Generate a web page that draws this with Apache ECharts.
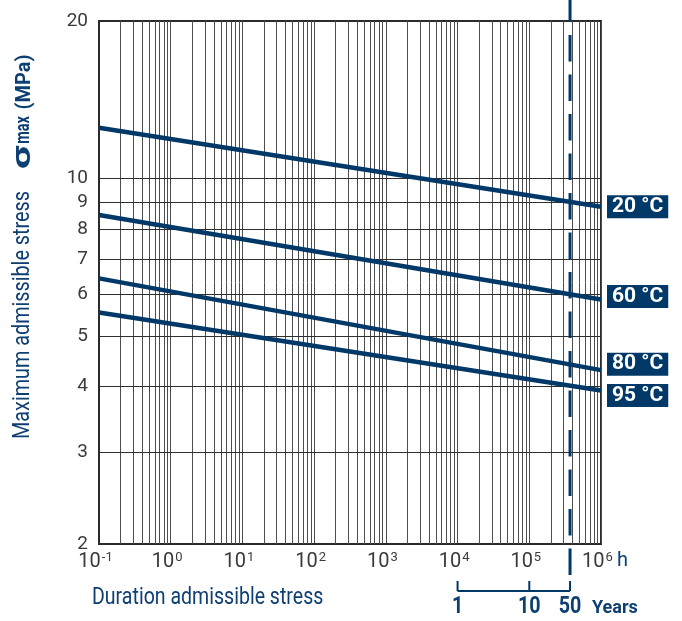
<!DOCTYPE html>
<html>
<head>
<meta charset="utf-8">
<script src="https://cdn.jsdelivr.net/npm/echarts@6/dist/echarts.min.js"></script>
<style>
  html, body { margin: 0; padding: 0; background: #fff; }
  #chart { width: 682px; height: 621px; }
</style>
</head>
<body>
<div id="chart"></div>
<script>
// Long-term admissible stress vs. duration (log-log), one line per temperature
const temperatures = ['20 °C', '60 °C', '80 °C', '95 °C'];
const durationHours = [0.1, 1e6];                // line end points, hours
const stress20 = [12.5, 8.83];                  // MPa
const stress60 = [8.51, 5.87];
const stress80 = [6.44, 4.30];
const stress95 = [5.54, 3.93];
const stressTicks = [2, 3, 4, 5, 6, 7, 8, 9, 10, 20];
const stressGridValues = [3, 4, 5, 6, 7, 8, 9, 10];
const hourDecadeExponents = [-1, 0, 1, 2, 3, 4, 5, 6];
const minorFactors = [2, 3, 4, 5, 6, 7, 8, 9];
const yearsMarks = [{ label: '1', hours: 1e4 }, { label: '10', hours: 1e5 }, { label: '50', hours: 3.7e5 }];
const serviceLimitHours = 3.7e5;

const NAVY = '#003868';
const TEXT_NAVY = '#0d3f73';
const GRID = '#4d4d4d';
const FONT = "Roboto, 'Liberation Sans', sans-serif";

const seriesValues = [stress20, stress60, stress80, stress95];
const labelShift = [0, -3, -6, 5];

// minor vertical grid lines, 2..9 within each decade
const minorLines = [];
hourDecadeExponents.slice(0, -1).forEach(e => {
  minorFactors.forEach(f => minorLines.push({ xAxis: f * Math.pow(10, e), label: { show: false } }));
});
// horizontal grid lines carrying the stress labels
const stressLines = stressTicks.map(v => ({
  yAxis: v,
  lineStyle: {
    color: stressGridValues.includes(v) ? '#2e2e2e' : 'rgba(0,0,0,0)',
    width: 1, type: 'solid'
  },
  label: {
    show: true, position: 'start', distance: 11,
    formatter: String(v),
    color: '#3a3a3a', fontSize: 19, fontFamily: FONT
  }
}));

const chart = echarts.init(document.getElementById('chart'), null, { renderer: 'canvas' });

const series = [{
  type: 'line',
  name: 'grid',
  z: 1,
  silent: true,
  data: [[durationHours[0], stressTicks[0]]],
  showSymbol: false,
  lineStyle: { opacity: 0 },
  markLine: {
    silent: true,
    symbol: 'none',
    animation: false,
    lineStyle: { color: GRID, width: 1, type: 'solid' },
    label: { show: false },
    data: minorLines.concat(stressLines)
  }
}];

temperatures.forEach((name, i) => {
  series.push({
    type: 'line',
    name: name,
    z: 5,
    data: durationHours.map((h, k) => [h, seriesValues[i][k]]),
    showSymbol: false,
    lineStyle: { color: NAVY, width: 4.5, cap: 'butt' },
    clip: false,
    endLabel: {
      show: true,
      formatter: '{a}',
      color: '#fff',
      backgroundColor: NAVY,
      fontWeight: 'bold',
      fontSize: 21,
      lineHeight: 22,
      fontFamily: FONT,
      padding: [1, 5, 0, 5],
      distance: 6,
      offset: [0, labelShift[i]]
    }
  });
});

chart.setOption({
  animation: false,
  grid: {
    left: 99, right: 81, top: 21, bottom: 77,
    show: true, borderColor: '#2b2b2b', borderWidth: 2, backgroundColor: 'transparent'
  },
  xAxis: {
    type: 'log', logBase: 10, min: 0.1, max: 1e6, splitNumber: 7,
    axisLine: { show: true, lineStyle: { color: '#2b2b2b', width: 2 } },
    axisTick: { show: false },
    splitLine: { show: true, lineStyle: { color: GRID, width: 1 } },
    axisLabel: {
      margin: 7,
      padding: [0, 7, 0, 0],
      formatter: v => '{b|10}{s|' + Math.round(Math.log10(v)) + '}',
      rich: {
        b: { fontSize: 20, color: '#3a3a3a', fontFamily: FONT },
        s: { fontSize: 13, color: '#3a3a3a', fontFamily: FONT, padding: [0, 0, 9, 1] }
      }
    }
  },
  yAxis: {
    type: 'log', logBase: 10, min: 2, max: 20,
    axisLine: { show: true, lineStyle: { color: '#2b2b2b', width: 2 } },
    axisTick: { show: false },
    axisLabel: { show: false },
    splitLine: { show: false }
  },
  series: series
});

// Annotations placed through the axis scales
const px = h => chart.convertToPixel({ xAxisIndex: 0, yAxisIndex: 0 }, [h, 2])[0];
const xLimit = px(serviceLimitHours);
const bracketY = 591;
const graphics = [
  { type: 'line', z: 10, shape: { x1: xLimit, y1: 0, x2: xLimit, y2: 576 },
    style: { stroke: NAVY, lineWidth: 3, lineDash: [26.5, 13], lineDashOffset: 4.5 } },
  { type: 'line', z: 10, shape: { x1: px(yearsMarks[0].hours), y1: bracketY, x2: xLimit, y2: bracketY },
    style: { stroke: NAVY, lineWidth: 2 } },
  { type: 'text', x: 617, y: 561,
    style: { text: 'h', fill: TEXT_NAVY, font: '20px ' + FONT, verticalAlign: 'middle' } },
  { type: 'text', x: 92, y: 598, scaleX: 0.85,
    style: { text: 'Duration admissible stress', fill: TEXT_NAVY, font: '23px ' + FONT, verticalAlign: 'middle' } },
  { type: 'text', x: xLimit + 22, y: 608,
    style: { text: 'Years', fill: TEXT_NAVY, font: 'bold 18px ' + FONT, verticalAlign: 'middle', align: 'left' } },
  { type: 'text', x: 23, y: 315, rotation: Math.PI / 2, scaleX: 0.86,
    style: { text: 'Maximum admissible stress', fill: TEXT_NAVY, font: '23px ' + FONT, align: 'center', verticalAlign: 'middle' } },
  // stress symbol σ, drawn wide, followed by "max" and the unit
  { type: 'text', x: 23, y: 157, rotation: Math.PI / 2, scaleX: 1.6,
    style: { text: 'σ', fill: TEXT_NAVY, font: 'bold 26px ' + FONT, align: 'center', verticalAlign: 'middle' } },
  { type: 'text', x: 24, y: 130, rotation: Math.PI / 2, scaleX: 0.72,
    style: { text: 'max', fill: TEXT_NAVY, font: 'bold 20px ' + FONT, align: 'center', verticalAlign: 'middle' } },
  { type: 'text', x: 25, y: 82, rotation: Math.PI / 2, scaleX: 0.95,
    style: { text: '(MPa)', fill: TEXT_NAVY, font: 'bold 21px ' + FONT, align: 'center', verticalAlign: 'middle' } }
];
yearsMarks.forEach(m => {
  const x = px(m.hours);
  graphics.push({ type: 'line', z: 10, shape: { x1: x, y1: bracketY - 10, x2: x, y2: bracketY },
    style: { stroke: NAVY, lineWidth: 2 } });
  graphics.push({ type: 'text', x: x, y: 607, scaleX: 0.82,
    style: { text: m.label, fill: TEXT_NAVY, font: 'bold 24px ' + FONT, align: 'center', verticalAlign: 'middle' } });
});
chart.setOption({ graphic: graphics });
</script>
</body>
</html>
